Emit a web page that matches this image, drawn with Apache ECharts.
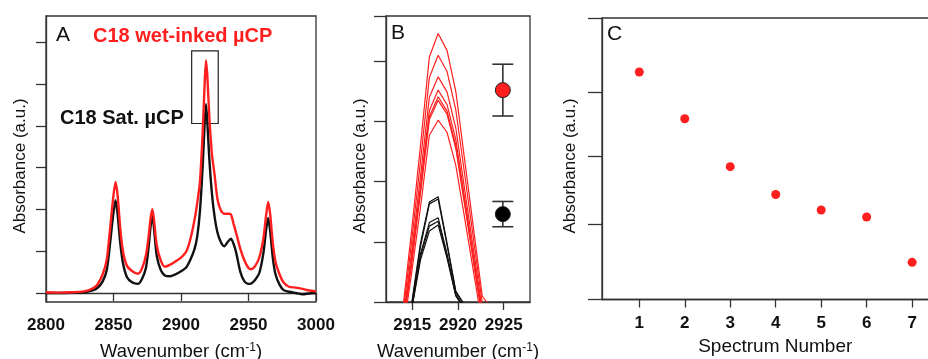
<!DOCTYPE html>
<html>
<head>
<meta charset="utf-8">
<script src="https://cdn.jsdelivr.net/npm/echarts@6.0.0/dist/echarts.min.js"></script>
<style>
  html, body { margin: 0; padding: 0; background: #fff; }
  #chart { width: 928px; height: 359px; }
</style>
</head>
<body>
<div id="chart"></div>
<script>
// panel A: full spectra
const wnA = [2800, 2810, 2820, 2828, 2834, 2838, 2842, 2845, 2847.5, 2849.5, 2851.5, 2853, 2855, 2857, 2860, 2864,
  2868, 2871, 2874, 2876, 2877.5, 2878.8, 2880, 2882, 2885, 2888, 2892, 2896, 2900, 2904, 2907, 2910, 2912, 2914,
  2916, 2917.5, 2918.5, 2919.5, 2921, 2923, 2925, 2927, 2929.5, 2932, 2935, 2937, 2939, 2941, 2944, 2947, 2950,
  2952, 2955, 2958, 2961, 2963, 2964.6, 2966, 2968, 2970, 2973, 2976, 2980, 2985, 2990, 2995, 3000];
const wetInked = [0.02, 0.01, 0.02, 0.04, 0.10, 0.20, 0.45, 0.80, 1.55, 2.20, 2.66, 2.35, 1.55, 1.00, 0.65, 0.52,
  0.46, 0.58, 0.90, 1.35, 1.80, 2.01, 1.75, 1.15, 0.78, 0.63, 0.68, 0.76, 0.85, 1.00, 1.30, 1.75, 2.15, 2.65,
  3.80, 5.00, 5.57, 5.20, 4.20, 3.30, 2.80, 2.25, 1.98, 1.90, 1.90, 1.88, 1.65, 1.42, 1.05, 0.78, 0.60,
  0.57, 0.65, 0.85, 1.30, 1.85, 2.18, 1.90, 1.20, 0.75, 0.45, 0.25, 0.15, 0.13, 0.10, 0.06, 0.04];
const saturated = [0.00, 0.00, 0.01, 0.02, 0.06, 0.12, 0.28, 0.55, 1.20, 1.80, 2.22, 1.90, 1.20, 0.72, 0.38, 0.25,
  0.22, 0.33, 0.60, 1.10, 1.60, 1.87, 1.55, 0.90, 0.55, 0.42, 0.40, 0.45, 0.52, 0.62, 0.80, 1.05, 1.35, 1.95,
  3.00, 4.05, 4.52, 4.10, 3.20, 2.35, 1.80, 1.45, 1.22, 1.12, 1.24, 1.30, 1.17, 0.95, 0.50, 0.28, 0.22,
  0.23, 0.32, 0.48, 0.95, 1.50, 1.80, 1.50, 0.85, 0.45, 0.20, 0.07, 0.03, 0.00, -0.03, -0.01, 0.00];
const zoomBox = [2907.9, 2927.6, 4.06, 5.80]; // x1, x2, y1, y2

// panel B: zoom on the 2918 band, 7 wet-inked + 5 saturated spectra
const wnB = [2913.98, 2914.94, 2915.90, 2916.87, 2917.83, 2918.80, 2919.76, 2920.72, 2921.69, 2922.65, 2923.61];
const wetRuns = [
  [-0.10, 1.20, 2.60, 4.07, 4.46, 4.18, 3.50, 2.37, 1.23, 0.10, -0.10],
  [-0.21, 1.02, 2.34, 3.73, 4.10, 3.83, 3.19, 2.13, 1.05, -0.02, -0.21],
  [-0.31, 0.84, 2.09, 3.40, 3.74, 3.49, 2.89, 1.88, 0.87, -0.13, -0.31],
  [-0.38, 0.73, 1.93, 3.18, 3.52, 3.28, 2.70, 1.73, 0.76, -0.21, -0.38],
  [-0.41, 0.68, 1.85, 3.08, 3.41, 3.17, 2.60, 1.66, 0.70, -0.24, -0.41],
  [-0.43, 0.65, 1.81, 3.03, 3.35, 3.12, 2.55, 1.62, 0.67, -0.26, -0.43],
  [-0.52, 0.49, 1.57, 2.77, 3.02, 2.82, 2.27, 1.40, 0.51, -0.37, -0.52]
];
const satRuns = [
  [-0.60, -0.02, 0.98, 1.66, 1.75, 0.98, 0.18, -0.05, -0.30, -0.50, -0.60],
  [-0.60, -0.05, 0.92, 1.63, 1.71, 0.95, 0.16, -0.06, -0.30, -0.50, -0.60],
  [-0.60, -0.10, 0.80, 1.32, 1.40, 0.80, 0.12, -0.10, -0.30, -0.50, -0.60],
  [-0.60, -0.11, 0.76, 1.26, 1.34, 0.77, 0.11, -0.11, -0.30, -0.50, -0.60],
  [-0.60, -0.12, 0.70, 1.18, 1.28, 0.73, 0.10, -0.12, -0.30, -0.50, -0.60]
];
const meanX = [2924.9, 2924.9];
const meanVal = [3.52, 1.46];
const meanLo = [3.09, 1.25];
const meanHi = [3.95, 1.67];

// panel C: peak absorbance per spectrum
const spectrumNo = [1, 2, 3, 4, 5, 6, 7];
const peakAbs = [8.08, 6.42, 4.72, 3.73, 3.18, 2.93, 1.32];
const cTicks = [0, 2.67, 5.10, 7.35, 10];

const FONT = '"Liberation Sans", Arial, sans-serif';
const AXIS = '#333';
const RED = '#ff1f1f';
const INK = '#111';

const chart = echarts.init(document.getElementById('chart'));

const lineSt = { color: AXIS, width: 1.3 };
const gridBox = { show: true, borderColor: AXIS, borderWidth: 1.3, containLabel: false, outerBoundsMode: 'none' };
const tickLabel = {
  fontFamily: FONT, fontSize: 17, fontWeight: 'bold', color: INK, margin: 15,
  formatter: (v) => String(v)
};
const wnName = '{n|Wavenumber (cm}{s|-1}{n|)}';
const wnNameStyle = {
  rich: {
    n: { fontFamily: FONT, fontSize: 18.5, color: INK },
    s: { fontFamily: FONT, fontSize: 12, color: INK, verticalAlign: 'top' }
  }
};

const errRender = (params, api) => {
  const x = api.value(0);
  const lo = api.coord([x, api.value(1)]);
  const hi = api.coord([x, api.value(2)]);
  const half = 10.5;
  const style = { stroke: AXIS, lineWidth: 1.6 };
  return {
    type: 'group',
    children: [
      { type: 'line', shape: { x1: lo[0], y1: lo[1], x2: hi[0], y2: hi[1] }, style },
      { type: 'line', shape: { x1: hi[0] - half, y1: hi[1], x2: hi[0] + half, y2: hi[1] }, style },
      { type: 'line', shape: { x1: lo[0] - half, y1: lo[1], x2: lo[0] + half, y2: lo[1] }, style }
    ]
  };
};

const series = [];
series.push({
  type: 'line', xAxisIndex: 0, yAxisIndex: 0, showSymbol: false, silent: true, smooth: 0.25,
  data: wnA.map((x, i) => [x, saturated[i]]),
  lineStyle: { color: INK, width: 2.4 }
});
series.push({
  type: 'line', xAxisIndex: 0, yAxisIndex: 0, showSymbol: false, silent: true, smooth: 0.25,
  data: wnA.map((x, i) => [x, wetInked[i]]),
  lineStyle: { color: RED, width: 2.4 },
  markArea: {
    silent: true,
    itemStyle: { color: 'rgba(0,0,0,0)', borderColor: '#222', borderWidth: 1.2 },
    data: [[{ xAxis: zoomBox[0], yAxis: zoomBox[3] }, { xAxis: zoomBox[1], yAxis: zoomBox[2] }]]
  }
});
wetRuns.forEach((run) => {
  series.push({
    type: 'line', xAxisIndex: 1, yAxisIndex: 1, showSymbol: false, silent: true,
    data: wnB.map((x, i) => [x, run[i]]),
    lineStyle: { color: RED, width: 1.2 }
  });
});
satRuns.forEach((run) => {
  series.push({
    type: 'line', xAxisIndex: 1, yAxisIndex: 1, showSymbol: false, silent: true,
    data: wnB.map((x, i) => [x, run[i]]),
    lineStyle: { color: INK, width: 1.2 }
  });
});
series.push({
  type: 'custom', xAxisIndex: 1, yAxisIndex: 1, silent: true,
  renderItem: errRender,
  encode: { x: 0, y: [1, 2] },
  data: meanX.map((x, i) => [x, meanLo[i], meanHi[i]]),
  z: 3
});
series.push({
  type: 'scatter', xAxisIndex: 1, yAxisIndex: 1, silent: true,
  symbolSize: 15,
  data: [[meanX[0], meanVal[0]]],
  itemStyle: { color: RED, borderColor: '#222', borderWidth: 1, opacity: 1 },
  z: 4
});
series.push({
  type: 'scatter', xAxisIndex: 1, yAxisIndex: 1, silent: true,
  symbolSize: 15,
  data: [[meanX[1], meanVal[1]]],
  itemStyle: { color: '#000', borderColor: '#222', borderWidth: 1, opacity: 1 },
  z: 4
});
series.push({
  type: 'scatter', xAxisIndex: 2, yAxisIndex: 2, silent: true,
  symbolSize: 9,
  data: spectrumNo.map((n, i) => [n, peakAbs[i]]),
  itemStyle: { color: RED, opacity: 1 }
});

const yTitle = (x) => ({
  type: 'text', x, y: 166, rotation: Math.PI / 2,
  style: { text: 'Absorbance (a.u.)', font: '17px ' + FONT, fill: INK, align: 'center', verticalAlign: 'middle' }
});
const label = (x, y, text, font, fill) => ({
  type: 'text', x, y,
  style: { text, font: font + ' ' + FONT, fill, align: 'left', verticalAlign: 'middle' }
});

chart.setOption({
  animation: false,
  backgroundColor: '#fff',
  grid: [
    { left: 46, top: 16, width: 270, height: 286, ...gridBox },
    { left: 386, top: 16, width: 144, height: 286, ...gridBox },
    { left: 602, top: 18, width: 346.5, height: 281.5, ...gridBox }
  ],
  xAxis: [
    {
      gridIndex: 0, type: 'value', min: 2800, max: 3000, interval: 50,
      axisLine: { show: true, lineStyle: lineSt },
      axisTick: { show: true, length: 8, lineStyle: lineSt },
      axisLabel: tickLabel,
      splitLine: { show: false },
      name: wnName, nameLocation: 'middle', nameGap: 40, nameTextStyle: wnNameStyle
    },
    {
      gridIndex: 1, type: 'value', min: 2912.13, max: 2927.87,
      axisLine: { show: true, lineStyle: lineSt },
      axisTick: { show: true, length: 8, lineStyle: lineSt, customValues: [2915, 2920, 2925] },
      axisLabel: { ...tickLabel, customValues: [2915, 2920, 2925] },
      splitLine: { show: false },
      name: wnName, nameLocation: 'middle', nameGap: 40, nameTextStyle: wnNameStyle
    },
    {
      gridIndex: 2, type: 'value', min: 0.18, max: 7.8,
      axisLine: { show: true, lineStyle: lineSt },
      axisTick: { show: true, length: 8, lineStyle: lineSt, customValues: spectrumNo },
      axisLabel: { ...tickLabel, customValues: spectrumNo },
      splitLine: { show: false },
      name: 'Spectrum Number', nameLocation: 'middle', nameGap: 38,
      nameTextStyle: { fontFamily: FONT, fontSize: 19, color: INK }
    }
  ],
  yAxis: [
    {
      gridIndex: 0, type: 'value', min: -0.215, max: 6.634,
      axisLine: { show: true, lineStyle: lineSt },
      axisTick: { show: true, length: 10, lineStyle: lineSt, customValues: [0, 1, 2, 3, 4, 5, 6] },
      axisLabel: { show: false },
      splitLine: { show: false }
    },
    {
      gridIndex: 1, type: 'value', min: 0, max: 4.751, interval: 1,
      axisLine: { show: true, lineStyle: lineSt },
      axisTick: { show: true, length: 12, lineStyle: lineSt },
      axisLabel: { show: false },
      splitLine: { show: false }
    },
    {
      gridIndex: 2, type: 'value', min: 0, max: 10,
      axisLine: { show: true, lineStyle: lineSt },
      axisTick: { show: true, length: 14, lineStyle: lineSt, customValues: cTicks },
      axisLabel: { show: false },
      splitLine: { show: false }
    }
  ],
  graphic: [
    yTitle(20), yTitle(360), yTitle(570),
    label(56, 35, 'A', '21px', INK),
    label(93, 36, 'C18 wet-inked µCP', 'bold 20px', RED),
    label(60, 118, 'C18 Sat. µCP', 'bold 20px', INK),
    label(391, 33, 'B', '21px', INK),
    label(607, 34, 'C', '21px', INK)
  ],
  series
});
</script>
</body>
</html>
